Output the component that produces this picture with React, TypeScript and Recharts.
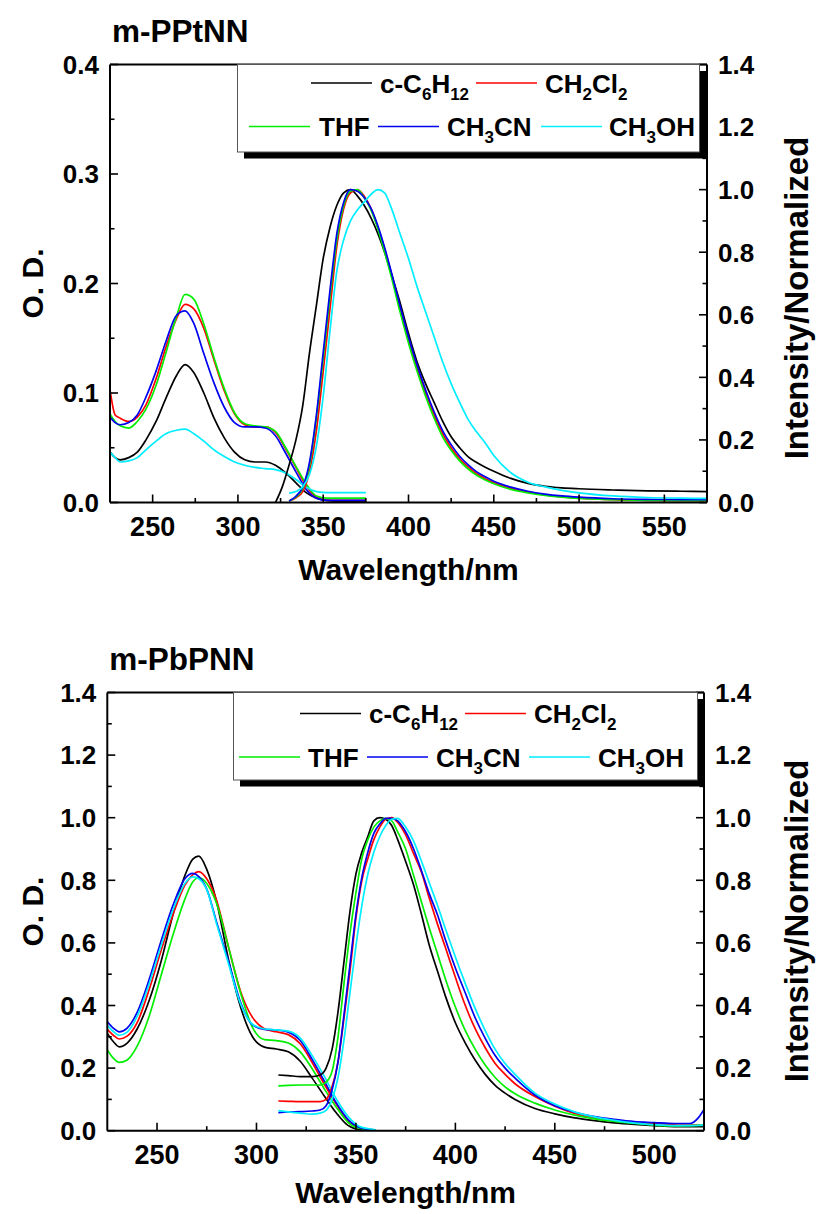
import React from 'react';
import { LineChart, Line, XAxis, YAxis, ReferenceLine, Legend } from 'recharts';

const FONT = '"Liberation Sans", Arial, Helvetica, sans-serif';
const W = 821;
const H = 607;

const solventColors = ['#000000', '#ff0000', '#00ee00', '#0000f0', '#00eeff'];
const solventNames = ['c-C6H12', 'CH2Cl2', 'THF', 'CH3CN', 'CH3OH'];

// ---------- m-PPtNN (top) ----------
const ptAbsWl = [225, 228, 231, 236, 241, 246, 252, 258, 264, 269, 274, 280, 286, 292, 298, 304, 310, 316, 322, 328, 334, 340, 346, 352, 360, 368, 375];
const ptAbsC6H12 = [0.046, 0.041, 0.039, 0.041, 0.046, 0.057, 0.074, 0.096, 0.116, 0.126, 0.119, 0.100, 0.077, 0.059, 0.046, 0.039, 0.037, 0.037, 0.034, 0.027, 0.018, 0.009, 0.004, 0.002, 0.001, 0.001, 0.001];
const ptAbsCH2Cl2 = [0.103, 0.080, 0.077, 0.074, 0.078, 0.089, 0.113, 0.143, 0.168, 0.181, 0.177, 0.159, 0.130, 0.102, 0.081, 0.071, 0.069, 0.069, 0.064, 0.049, 0.032, 0.015, 0.005, 0.002, 0.002, 0.002, 0.002];
const ptAbsTHF = [0.081, 0.074, 0.070, 0.068, 0.074, 0.085, 0.107, 0.138, 0.170, 0.190, 0.186, 0.163, 0.132, 0.104, 0.082, 0.072, 0.070, 0.069, 0.065, 0.050, 0.033, 0.017, 0.006, 0.004, 0.004, 0.004, 0.004];
const ptAbsCH3CN = [0.078, 0.073, 0.071, 0.073, 0.080, 0.096, 0.120, 0.148, 0.171, 0.175, 0.164, 0.136, 0.109, 0.087, 0.073, 0.069, 0.069, 0.068, 0.061, 0.045, 0.028, 0.012, 0.004, 0.002, 0.002, 0.002, 0.002];
const ptAbsCH3OH = [0.046, 0.041, 0.037, 0.038, 0.041, 0.048, 0.056, 0.063, 0.066, 0.067, 0.063, 0.056, 0.048, 0.042, 0.037, 0.034, 0.032, 0.031, 0.030, 0.027, 0.021, 0.014, 0.010, 0.009, 0.009, 0.009, 0.009];

const ptEmWl = [322, 326, 330, 334, 338, 342, 346, 350, 354, 358, 362, 366, 370, 374, 378, 382, 386, 390, 395, 400, 405, 410, 415, 420, 425, 430, 435, 440, 445, 450, 460, 470, 480, 490, 500, 520, 540, 560, 575];
const ptEmC6H12 = [0.0, 0.05, 0.12, 0.20, 0.31, 0.48, 0.63, 0.78, 0.88, 0.95, 0.99, 1.0, 0.98, 0.95, 0.91, 0.86, 0.80, 0.73, 0.64, 0.54, 0.45, 0.38, 0.32, 0.26, 0.21, 0.175, 0.146, 0.128, 0.113, 0.10, 0.077, 0.061, 0.052, 0.047, 0.044, 0.040, 0.037, 0.036, 0.035];
const ptEmCH2Cl2 = [null, null, 0.005, 0.015, 0.035, 0.10, 0.23, 0.42, 0.62, 0.82, 0.94, 0.99, 1.0, 0.98, 0.94, 0.88, 0.81, 0.73, 0.62, 0.52, 0.43, 0.35, 0.28, 0.22, 0.175, 0.14, 0.113, 0.092, 0.076, 0.063, 0.045, 0.033, 0.024, 0.018, 0.014, 0.009, 0.007, 0.006, 0.005];
const ptEmTHF = [null, null, 0.005, 0.018, 0.045, 0.12, 0.27, 0.46, 0.66, 0.84, 0.95, 0.995, 1.0, 0.975, 0.935, 0.875, 0.80, 0.72, 0.61, 0.51, 0.42, 0.34, 0.27, 0.21, 0.167, 0.133, 0.107, 0.087, 0.072, 0.06, 0.042, 0.031, 0.023, 0.017, 0.013, 0.009, 0.007, 0.006, 0.006];
const ptEmCH3CN = [null, null, 0.005, 0.02, 0.05, 0.13, 0.28, 0.48, 0.68, 0.86, 0.96, 1.0, 0.995, 0.975, 0.94, 0.885, 0.815, 0.735, 0.63, 0.53, 0.44, 0.36, 0.29, 0.23, 0.185, 0.148, 0.12, 0.098, 0.082, 0.068, 0.049, 0.036, 0.027, 0.021, 0.017, 0.012, 0.010, 0.009, 0.009];
const ptEmCH3OH = [null, null, 0.03, 0.035, 0.05, 0.09, 0.18, 0.34, 0.55, 0.74, 0.84, 0.90, 0.935, 0.96, 0.985, 1.0, 0.99, 0.94, 0.86, 0.78, 0.69, 0.61, 0.53, 0.45, 0.38, 0.32, 0.265, 0.225, 0.19, 0.15, 0.095, 0.065, 0.05, 0.039, 0.031, 0.021, 0.016, 0.014, 0.013];

// ---------- m-PbPNN (bottom) ----------
const bpAbsWl = [225, 228, 231, 235, 240, 246, 252, 258, 264, 268, 271, 275, 280, 286, 292, 298, 304, 310, 316, 322, 328, 334, 340, 346, 352, 360];
const bpAbsC6H12 = [0.311, 0.285, 0.268, 0.280, 0.325, 0.415, 0.540, 0.690, 0.815, 0.868, 0.877, 0.835, 0.73, 0.545, 0.395, 0.300, 0.267, 0.261, 0.252, 0.222, 0.168, 0.112, 0.058, 0.017, 0.004, 0.002];
const bpAbsCH2Cl2 = [0.324, 0.305, 0.293, 0.302, 0.345, 0.450, 0.575, 0.690, 0.785, 0.818, 0.828, 0.805, 0.735, 0.585, 0.445, 0.362, 0.326, 0.316, 0.307, 0.278, 0.218, 0.150, 0.086, 0.032, 0.009, 0.002];
const bpAbsTHF = [0.258, 0.232, 0.218, 0.226, 0.270, 0.365, 0.495, 0.625, 0.740, 0.795, 0.809, 0.790, 0.725, 0.585, 0.440, 0.330, 0.291, 0.288, 0.280, 0.252, 0.198, 0.135, 0.076, 0.027, 0.007, 0.002];
const bpAbsCH3CN = [0.348, 0.328, 0.316, 0.328, 0.378, 0.482, 0.605, 0.720, 0.805, 0.822, 0.812, 0.772, 0.665, 0.540, 0.410, 0.338, 0.324, 0.322, 0.315, 0.288, 0.228, 0.160, 0.090, 0.036, 0.010, 0.002];
const bpAbsCH3OH = [0.337, 0.317, 0.305, 0.315, 0.365, 0.468, 0.590, 0.705, 0.790, 0.811, 0.805, 0.770, 0.660, 0.532, 0.405, 0.340, 0.325, 0.322, 0.318, 0.296, 0.240, 0.175, 0.103, 0.046, 0.013, 0.003];

const bpEmWl = [311, 316, 322, 328, 332, 335, 338, 341, 344, 347, 350, 353, 356, 359, 362, 365, 368, 371, 375, 379, 383, 387, 391, 395, 400, 405, 410, 415, 420, 425, 430, 440, 450, 460, 470, 480, 490, 500, 510, 518, 522, 525];
const bpEmC6H12 = [0.178, 0.176, 0.173, 0.173, 0.178, 0.20, 0.26, 0.38, 0.54, 0.70, 0.82, 0.89, 0.94, 0.99, 1.0, 0.995, 0.975, 0.93, 0.86, 0.785, 0.69, 0.59, 0.51, 0.43, 0.345, 0.28, 0.225, 0.18, 0.145, 0.12, 0.10, 0.071, 0.054, 0.041, 0.032, 0.025, 0.020, 0.016, 0.013, 0.013, 0.013, 0.013];
const bpEmCH2Cl2 = [0.095, 0.094, 0.093, 0.093, 0.093, 0.10, 0.14, 0.22, 0.36, 0.51, 0.68, 0.80, 0.87, 0.93, 0.97, 0.995, 1.0, 0.985, 0.945, 0.885, 0.825, 0.74, 0.66, 0.585, 0.49, 0.40, 0.325, 0.265, 0.215, 0.18, 0.15, 0.109, 0.078, 0.055, 0.040, 0.031, 0.026, 0.022, 0.019, 0.018, 0.018, 0.018];
const bpEmTHF = [0.143, 0.145, 0.146, 0.146, 0.146, 0.155, 0.19, 0.30, 0.47, 0.63, 0.76, 0.87, 0.93, 0.97, 0.99, 0.998, 0.99, 0.955, 0.90, 0.815, 0.73, 0.645, 0.565, 0.485, 0.395, 0.32, 0.26, 0.21, 0.17, 0.14, 0.118, 0.088, 0.066, 0.050, 0.038, 0.030, 0.023, 0.018, 0.015, 0.016, 0.017, 0.018];
const bpEmCH3CN = [0.058, 0.060, 0.061, 0.063, 0.066, 0.08, 0.13, 0.22, 0.37, 0.53, 0.69, 0.81, 0.89, 0.95, 0.98, 0.998, 0.998, 0.99, 0.955, 0.90, 0.83, 0.755, 0.69, 0.61, 0.52, 0.44, 0.36, 0.295, 0.24, 0.20, 0.168, 0.114, 0.08, 0.059, 0.045, 0.036, 0.029, 0.026, 0.023, 0.023, 0.04, 0.068];
const bpEmCH3OH = [0.064, 0.060, 0.056, 0.053, 0.056, 0.065, 0.10, 0.17, 0.29, 0.44, 0.59, 0.72, 0.82, 0.89, 0.94, 0.975, 0.995, 0.998, 0.97, 0.925, 0.86, 0.79, 0.72, 0.645, 0.555, 0.47, 0.39, 0.32, 0.26, 0.215, 0.18, 0.12, 0.085, 0.06, 0.044, 0.033, 0.024, 0.019, 0.016, 0.016, 0.017, 0.018];

// ---------- ticks ----------
const ptXTicks = [250, 275, 300, 325, 350, 375, 400, 425, 450, 475, 500, 525, 550];
const bpXTicks = [250, 275, 300, 325, 350, 375, 400, 425, 450, 475, 500];
const ptLeftTicks = [0, 0.05, 0.1, 0.15, 0.2, 0.25, 0.3, 0.35, 0.4];
const fullTicks14 = [0, 0.1, 0.2, 0.3, 0.4, 0.5, 0.6, 0.7, 0.8, 0.9, 1.0, 1.1, 1.2, 1.3, 1.4];

type Pt = { x: number; y: number };
const pts = (wl: number[], v: (number | null)[]): Pt[] =>
  wl.map((x, i) => ({ x, y: v[i] as number })).filter((p) => p.y !== null && p.y !== undefined);

const isMult = (v: number, step: number) => Math.abs(v / step - Math.round(v / step)) < 1e-6;

const makeXTick = (majorStep: number) => (props: any) => {
  const { x, y, payload } = props;
  const v = payload.value as number;
  const major = isMult(v, majorStep);
  return (
    <g>
      <line x1={x} x2={x} y1={y} y2={y - (major ? 8 : 4.5)} stroke="#000" strokeWidth={1.6} />
      {major && (
        <text x={x} y={y + 33} textAnchor="middle" fontFamily={FONT} fontWeight="bold" fontSize={27} fill="#000">
          {v}
        </text>
      )}
    </g>
  );
};

const makeYTick = (side: 'left' | 'right', majorStep: number) => (props: any) => {
  const { x, y, payload } = props;
  const v = payload.value as number;
  const major = isMult(v, majorStep);
  const dir = side === 'left' ? 1 : -1;
  return (
    <g>
      <line x1={x} x2={x + dir * (major ? 8 : 4.5)} y1={y} y2={y} stroke="#000" strokeWidth={1.6} />
      {major && (
        <text
          x={x - dir * 11}
          y={y}
          dy="0.36em"
          textAnchor={side === 'left' ? 'end' : 'start'}
          fontFamily={FONT}
          fontWeight="bold"
          fontSize={26}
          fill="#000"
        >
          {v.toFixed(1)}
        </text>
      )}
    </g>
  );
};

// legend label parts: '_' prefix marks subscript
const labelParts: Record<string, string[]> = {
  'c-C6H12': ['c-C', '_6', 'H', '_12'],
  CH2Cl2: ['CH', '_2', 'Cl', '_2'],
  THF: ['THF'],
  CH3CN: ['CH', '_3', 'CN'],
  CH3OH: ['CH', '_3', 'OH'],
};

function RichLabel({ x, y, name }: { x: number; y: number; name: string }) {
  const parts = labelParts[name];
  let inSub = false;
  return (
    <text x={x} y={y} fontFamily={FONT} fontWeight="bold" fontSize={26} fill="#000">
      {parts.map((p, i) => {
        const sub = p.startsWith('_');
        let dy = 0;
        if (sub && !inSub) dy = 7;
        if (!sub && inSub) dy = -7;
        inSub = sub;
        return (
          <tspan key={i} dy={dy} fontSize={sub ? 17 : 26}>
            {sub ? p.slice(1) : p}
          </tspan>
        );
      })}
    </text>
  );
}

type LegendLayout = {
  left: number;
  top: number;
  w: number;
  h: number;
  rowY: number[];
  // per solvent: [row, lineStart, textStart]
  items: [number, number, number][];
};

function LegendBox({ lay }: { lay: LegendLayout }) {
  return (
    <svg width={lay.w + 10} height={lay.h + 10} style={{ display: 'block', overflow: 'visible' }}>
      <rect x={7} y={7} width={lay.w} height={lay.h} fill="#000" />
      <rect x={0.5} y={0.5} width={lay.w} height={lay.h} fill="#fff" stroke="#555" strokeWidth={1} />
      {lay.items.map(([row, lx, tx], i) => (
        <g key={i}>
          <line x1={lx} x2={lx + 61} y1={lay.rowY[row]} y2={lay.rowY[row]} stroke={solventColors[i]} strokeWidth={1.7} />
          <RichLabel x={tx} y={lay.rowY[row] + 9.5} name={solventNames[i]} />
        </g>
      ))}
    </svg>
  );
}

type PanelProps = {
  top: number;
  title: string;
  margin: { top: number; right: number; bottom: number; left: number };
  xDomain: [number, number];
  xTicks: number[];
  leftDomain: [number, number];
  leftTicks: number[];
  leftMajor: number;
  abs: Pt[][];
  em: Pt[][];
  legend: LegendLayout;
  titleBase: number;
  xTitleBase: number;
  rightTitleCy: number;
};

function Panel(p: PanelProps) {
  const plotL = p.margin.left + 100;
  const plotR = W - p.margin.right - 100;
  const plotT = p.margin.top;
  const plotB = H - p.margin.bottom - 60;
  const cy = (plotT + plotB) / 2;
  return (
    <div style={{ position: 'absolute', left: 0, top: p.top, width: W, height: H }}>
      <LineChart width={W} height={H} margin={p.margin}>
        <XAxis
          type="number"
          dataKey="x"
          domain={p.xDomain}
          ticks={p.xTicks}
          interval={0}
          allowDataOverflow
          height={60}
          tickSize={0}
          tickMargin={0}
          tickLine={false}
          axisLine={{ stroke: '#000', strokeWidth: 2 }}
          tick={makeXTick(50)}
        />
        <YAxis
          yAxisId="left"
          orientation="left"
          type="number"
          domain={p.leftDomain}
          ticks={p.leftTicks}
          interval={0}
          allowDataOverflow
          width={100}
          tickSize={0}
          tickMargin={0}
          tickLine={false}
          axisLine={{ stroke: '#000', strokeWidth: 2 }}
          tick={makeYTick('left', p.leftMajor)}
        />
        <YAxis
          yAxisId="right"
          orientation="right"
          type="number"
          domain={[0, 1.4]}
          ticks={fullTicks14}
          interval={0}
          allowDataOverflow
          width={100}
          tickSize={0}
          tickMargin={0}
          tickLine={false}
          axisLine={{ stroke: '#000', strokeWidth: 2 }}
          tick={makeYTick('right', 0.2)}
        />
        <ReferenceLine yAxisId="left" y={p.leftDomain[1]} stroke="#000" strokeWidth={2} ifOverflow="visible" />
        {p.abs.map((d, i) => (
          <Line
            key={'abs' + i}
            yAxisId="left"
            data={d}
            dataKey="y"
            name={solventNames[i]}
            type="monotone"
            stroke={solventColors[i]}
            strokeWidth={1.7}
            dot={false}
            activeDot={false}
            isAnimationActive={false}
          />
        ))}
        {p.em.map((d, i) => (
          <Line
            key={'em' + i}
            yAxisId="right"
            data={d}
            dataKey="y"
            name={solventNames[i] + ' em'}
            type="monotone"
            stroke={solventColors[i]}
            strokeWidth={1.7}
            dot={false}
            activeDot={false}
            isAnimationActive={false}
          />
        ))}
        <Legend
          verticalAlign="middle"
          align="center"
          layout="horizontal"
          wrapperStyle={{ left: p.legend.left, top: p.legend.top, width: p.legend.w + 10, height: p.legend.h + 10 }}
          content={() => <LegendBox lay={p.legend} />}
        />
      </LineChart>
      <svg width={W} height={H} style={{ position: 'absolute', left: 0, top: 0, pointerEvents: 'none' }}>
        <text x={plotL + 2} y={p.titleBase} fontFamily={FONT} fontWeight="bold" fontSize={31.5} fill="#000">
          {p.title}
        </text>
        <text
          transform={`translate(43, ${cy}) rotate(-90)`}
          textAnchor="middle"
          fontFamily={FONT}
          fontWeight="bold"
          fontSize={30}
          fill="#000"
        >
          O. D.
        </text>
        <text
          transform={`translate(808, ${p.rightTitleCy}) rotate(-90)`}
          textAnchor="middle"
          fontFamily={FONT}
          fontWeight="bold"
          fontSize={33}
          fill="#000"
        >
          Intensity/Normalized
        </text>
        <text x={(plotL + plotR) / 2} y={p.xTitleBase} textAnchor="middle" fontFamily={FONT} fontWeight="bold" fontSize={30} fill="#000">
          Wavelength/nm
        </text>
      </svg>
    </div>
  );
}

const topLegend: LegendLayout = {
  left: 237,
  top: 64,
  w: 462,
  h: 87.5,
  rowY: [19, 62.5],
  items: [
    [0, 74, 143],
    [0, 239, 308],
    [1, 12, 82],
    [1, 141, 210],
    [1, 304, 372],
  ],
};

const bottomLegend: LegendLayout = {
  left: 232.5,
  top: 84.5,
  w: 464,
  h: 87.5,
  rowY: [21.5, 65],
  items: [
    [0, 67, 136],
    [0, 232, 301],
    [1, 6, 75],
    [1, 134, 203],
    [1, 296, 365],
  ],
};

export default function App() {
  const ptAbs = [ptAbsC6H12, ptAbsCH2Cl2, ptAbsTHF, ptAbsCH3CN, ptAbsCH3OH].map((v) => pts(ptAbsWl, v));
  const ptEm = [ptEmC6H12, ptEmCH2Cl2, ptEmTHF, ptEmCH3CN, ptEmCH3OH].map((v) => pts(ptEmWl, v));
  const bpAbs = [bpAbsC6H12, bpAbsCH2Cl2, bpAbsTHF, bpAbsCH3CN, bpAbsCH3OH].map((v) => pts(bpAbsWl, v));
  const bpEm = [bpEmC6H12, bpEmCH2Cl2, bpEmTHF, bpEmCH3CN, bpEmCH3OH].map((v) => pts(bpEmWl, v));
  return (
    <div style={{ position: 'absolute', left: 0, top: 0, width: W, height: 1214, background: '#fff' }}>
      <Panel
        top={0}
        title="m-PPtNN"
        margin={{ top: 64.5, right: 14, bottom: 44.5, left: 10 }}
        xDomain={[225, 575]}
        xTicks={ptXTicks}
        leftDomain={[0, 0.4]}
        leftTicks={ptLeftTicks}
        leftMajor={0.1}
        abs={ptAbs}
        em={ptEm}
        legend={topLegend}
        titleBase={42}
        xTitleBase={580}
        rightTitleCy={298}
      />
      <Panel
        top={607}
        title="m-PbPNN"
        margin={{ top: 85.5, right: 17, bottom: 23.3, left: 7.3 }}
        xDomain={[225, 525]}
        xTicks={bpXTicks}
        leftDomain={[0, 1.4]}
        leftTicks={fullTicks14}
        leftMajor={0.2}
        abs={bpAbs}
        em={bpEm}
        legend={bottomLegend}
        titleBase={62.5}
        xTitleBase={596}
        rightTitleCy={314}
      />
    </div>
  );
}
